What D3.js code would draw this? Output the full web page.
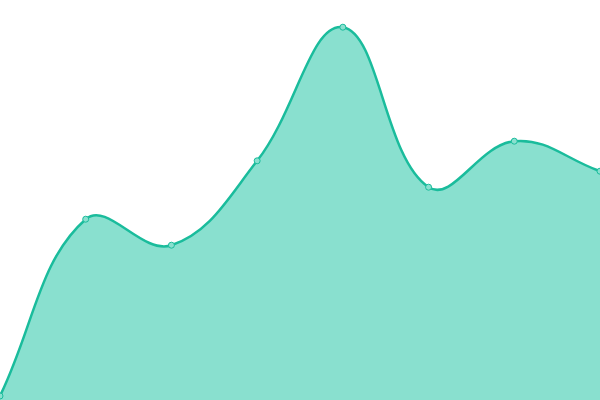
<!DOCTYPE html>
<html>
<head>
<meta charset="utf-8">
<script src="https://cdn.jsdelivr.net/npm/d3@7"></script>
<style>
  body { margin: 0; background: #fff; }
  svg { display: block; }
</style>
</head>
<body>
<script>
var labels = ["A", "B", "C", "D", "E", "F", "G", "H"];
var values = [1, 45.2, 38.7, 59.8, 93.2, 53.2, 64.7, 57.2];

var width = 600, height = 400;
var tension = 0.4;

var svg = d3.select("body").append("svg")
    .attr("width", width)
    .attr("height", height);

var x = d3.scalePoint().domain(labels).range([0, width]);
var y = d3.scaleLinear().domain([0, 100]).range([height, 0]);

var pts = labels.map(function (d, i) { return [x(d), y(values[i])]; });

// spline control points weighted by segment length
function clamp(v, lo, hi) { return Math.max(lo, Math.min(hi, v)); }
var cps = pts.map(function (p, i) {
  var a = pts[i - 1] || p, b = pts[i + 1] || p;
  var d01 = Math.hypot(p[0] - a[0], p[1] - a[1]);
  var d12 = Math.hypot(b[0] - p[0], b[1] - p[1]);
  var s01 = d01 / (d01 + d12) || 0, s12 = d12 / (d01 + d12) || 0;
  var fa = tension * s01, fb = tension * s12;
  return {
    prev: [clamp(p[0] - fa * (b[0] - a[0]), 0, width), clamp(p[1] - fa * (b[1] - a[1]), 0, height)],
    next: [clamp(p[0] + fb * (b[0] - a[0]), 0, width), clamp(p[1] + fb * (b[1] - a[1]), 0, height)]
  };
});

function linePath(path) {
  path.moveTo(pts[0][0], pts[0][1]);
  for (var i = 1; i < pts.length; i++) {
    path.bezierCurveTo(cps[i - 1].next[0], cps[i - 1].next[1],
                       cps[i].prev[0], cps[i].prev[1], pts[i][0], pts[i][1]);
  }
  return path;
}

var ap = linePath(d3.path());
ap.lineTo(pts[pts.length - 1][0], y(0));
ap.lineTo(pts[0][0], y(0));
ap.closePath();

svg.append("path")
    .attr("d", ap.toString())
    .style("fill", "#89e0cf");

svg.append("path")
    .attr("d", linePath(d3.path()).toString())
    .style("fill", "none")
    .style("stroke", "#1abc9c")
    .style("stroke-width", 2.5);

svg.selectAll("circle").data(pts).enter().append("circle")
    .attr("cx", function (d) { return d[0]; })
    .attr("cy", function (d) { return d[1]; })
    .attr("r", 3)
    .style("fill", "#89e0cf")
    .style("stroke", "#1abc9c")
    .style("stroke-width", 1);
</script>
</body>
</html>
